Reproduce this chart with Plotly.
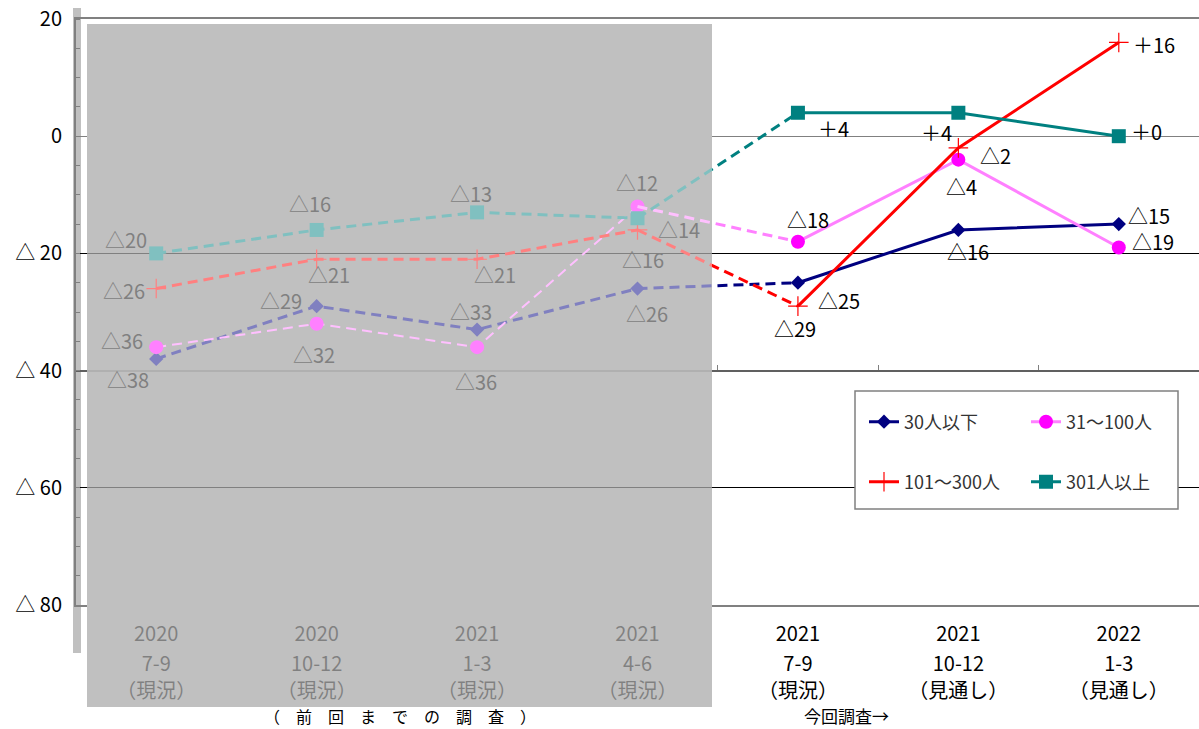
import plotly.graph_objects as go

# ---------------- data ----------------
years = ["2020", "2020", "2021", "2021", "2021", "2021", "2022"]
quarters = ["7-9", "10-12", "1-3", "4-6", "7-9", "10-12", "1-3"]
status = ["（現況）", "（現況）", "（現況）", "（現況）", "（現況）", "（見通し）", "（見通し）"]
categories = [f"{y} {q} {s}" for y, q, s in zip(years, quarters, status)]

series_names = ["30人以下", "31～100人", "101～300人", "301人以上"]
v_upto30 = [-38, -29, -33, -26, -25, -16, -15]
v_31_100 = [-36, -32, -36, -12, -18, -4, -19]
v_101_300 = [-26, -21, -21, -16, -29, -2, 16]
v_301plus = [-20, -16, -13, -14, 4, 4, 0]
series_values = [v_upto30, v_31_100, v_101_300, v_301plus]

y_tick_values = [20, 0, -20, -40, -60, -80]
y_tick_labels = ["20", "0", "△ 20", "△ 40", "△ 60", "△ 80"]

n_prev = 4  # periods from the previous surveys
prev_note = "（　前　回　ま　で　の　調　査　）"
this_note = "今回調査→"

# ---------------- styles / layout geometry ----------------
W, H = 1199, 729
ML, MR, MT, MB = 76, 0, 19, 124
PW, PH = W - ML - MR, H - MT - MB
FONT = "Noto Sans CJK JP"


def px(x):
    return (x - ML) / PW


def py(y):
    return (H - MB - y) / PH


styles = [
    dict(marker="#000080", line="#000080", symbol="diamond", size=11, old_w=3, lw=0),
    dict(marker="#FF00FF", line="#FF80FF", symbol="circle", size=14, old_w=2, lw=0),
    dict(marker="#FF0000", line="#FF0000", symbol="cross-thin", size=14, old_w=3, lw=1.2),
    dict(marker="#008080", line="#008080", symbol="square", size=14, old_w=3, lw=0),
]
# label offsets in px (dx right, dy down) from each point
label_offsets = [
    [(-28, 21), (-36, -6), (-6, -18), (9, 25), (41, 18), (10, 22), (30, -9)],
    [(-34, -7), (-3, 31), (-1, 34), (-1, -24), (10, -22), (3, 27), (34, -6)],
    [(-32, 2), (12, 15), (18, 15), (5, 30), (-3, 22), (37, 8), (35, 2)],
    [(-30, -14), (-7, -26), (-6, -19), (41, 11), (36, 16), (-22, 20), (28, -5)],
]
legend_ids = ["legend", "legend2", "legend3", "legend4"]
legend_pos = [(864, 422), (1026, 422), (864, 482), (1026, 482)]
DASH = "10px,6px"


def fmt(v):
    return f"△{abs(v)}" if v < 0 else f"＋{v}"


fig = go.Figure()
for k, (name, vals, st) in enumerate(zip(series_names, series_values, styles)):
    mk = dict(symbol=st["symbol"], size=st["size"], color=st["marker"],
              line=dict(color=st["marker"], width=st["lw"]))
    # previous surveys (dashed)
    fig.add_trace(go.Scatter(
        x=categories[:n_prev], y=vals[:n_prev], mode="lines+markers",
        line=dict(color=st["line"], width=st["old_w"], dash=DASH),
        marker=mk, showlegend=False, hoverinfo="skip"))
    # link between surveys (dashed)
    fig.add_trace(go.Scatter(
        x=categories[n_prev - 1:n_prev + 1], y=vals[n_prev - 1:n_prev + 1], mode="lines",
        line=dict(color=st["line"], width=3, dash=DASH),
        showlegend=False, hoverinfo="skip"))
    # this survey (solid)
    fig.add_trace(go.Scatter(
        x=categories[n_prev:], y=vals[n_prev:], mode="lines+markers", name=name,
        line=dict(color=st["line"], width=3), marker=mk,
        legend=legend_ids[k], showlegend=True))

# empty traces so that the extra label rows (x3, x4) and the crossing axis (x2) are drawn
for ax in ["x2", "x3", "x4"]:
    fig.add_trace(go.Scatter(x=[], y=[], xaxis=ax, yaxis="y", showlegend=False,
                             hoverinfo="skip"))

# data labels
annotations = []
for vals, offs in zip(series_values, label_offsets):
    for i, (v, (dx, dy)) in enumerate(zip(vals, offs)):
        annotations.append(dict(
            x=categories[i], y=v, xref="x", yref="y", text=fmt(v), showarrow=False,
            xshift=dx, yshift=-dy, xanchor="center", yanchor="middle",
            font=dict(family=FONT, size=20, color="#808080" if i < n_prev else "#000000")))

annotations.append(dict(x=px(400), y=py(729), xref="paper", yref="paper", text=prev_note,
                        xanchor="center", yanchor="bottom", borderpad=0,
                        showarrow=False, font=dict(family=FONT, size=16, color="#000000")))
annotations.append(dict(x=px(846), y=py(729), xref="paper", yref="paper", text=this_note,
                        xanchor="center", yanchor="bottom", borderpad=0,
                        showarrow=False, font=dict(family=FONT, size=17, color="#000000")))

shapes = [
    # gray bar behind the y axis
    dict(type="rect", xref="paper", yref="paper", x0=px(73), x1=px(81), y0=py(653), y1=py(8),
         fillcolor="#C0C0C0", line=dict(width=0), layer="below"),
    # previous-survey region: dark base + translucent white veil on top
    dict(type="rect", xref="paper", yref="paper", x0=px(87), x1=px(712), y0=py(707), y1=py(24),
         fillcolor="#808080", line=dict(width=0), layer="below"),
    dict(type="rect", xref="paper", yref="paper", x0=px(87), x1=px(712), y0=py(707), y1=py(24),
         fillcolor="rgba(255,255,255,0.5)", line=dict(width=0), layer="above"),
    # legend box
    dict(type="rect", xref="paper", yref="paper", x0=px(855), x1=px(1178), y0=py(509), y1=py(391),
         fillcolor="#FFFFFF", line=dict(color="#808080", width=1.5), layer="above"),
]

legends = {}
for lid, (lx, ly) in zip(legend_ids, legend_pos):
    legends[lid] = dict(x=px(lx), y=py(ly), xanchor="left", yanchor="middle",
                        orientation="h", bgcolor="rgba(0,0,0,0)", borderwidth=0,
                        font=dict(family=FONT, size=18, color="#333333"), itemwidth=30)

xr = [-0.5, len(categories) - 0.5]
idx = list(range(len(categories)))
tickfont = dict(family=FONT, size=20, color="#000000")

fig.update_layout(
    width=W, height=H, margin=dict(l=ML, r=MR, t=MT, b=MB),
    paper_bgcolor="#FFFFFF", plot_bgcolor="#FFFFFF",
    font=dict(family=FONT), showlegend=True,
    xaxis=dict(type="category", categoryorder="array", categoryarray=categories, range=xr,
               tickmode="array", tickvals=categories, ticktext=years, tickfont=tickfont,
               ticks="", showgrid=False, showline=True, mirror=True, linecolor="#808080",
               linewidth=2, ticklabelstandoff=10, fixedrange=True),
    xaxis2=dict(overlaying="x", anchor="free", position=0.4, range=xr,
                tickmode="array", tickvals=[i + 0.5 for i in idx[:-1]], ticks="inside",
                ticklen=5, tickcolor="#808080", tickwidth=1, showticklabels=False,
                showgrid=False, zeroline=False, showline=True, linecolor="#606060", linewidth=1.5),
    xaxis3=dict(overlaying="x", anchor="y", side="bottom", range=xr, tickmode="array",
                tickvals=idx, ticktext=quarters, tickfont=tickfont, ticks="",
                showgrid=False, zeroline=False, showline=False, ticklabelstandoff=45),
    xaxis4=dict(overlaying="x", anchor="y", side="bottom", range=xr, tickmode="array",
                tickvals=idx, ticktext=status, tickfont=tickfont, ticks="",
                showgrid=False, zeroline=False, showline=False, ticklabelstandoff=72),
    yaxis=dict(range=[-80, 20], tickmode="array", tickvals=y_tick_values, ticktext=y_tick_labels,
               tickfont=tickfont, ticks="", showgrid=True, gridcolor="#000000", gridwidth=1,
               zeroline=True, zerolinecolor="#808080", zerolinewidth=1,
               showline=True, linecolor="#808080", linewidth=2, ticklabelstandoff=8,
               minor=dict(dtick=5, tick0=0, ticks="inside", ticklen=4, tickwidth=1,
                          tickcolor="#808080", showgrid=False)),
    annotations=annotations, shapes=shapes,
    **legends,
)

fig.write_html("out.html", config={"displayModeBar": False},
               post_script="document.body.style.margin='0';")
